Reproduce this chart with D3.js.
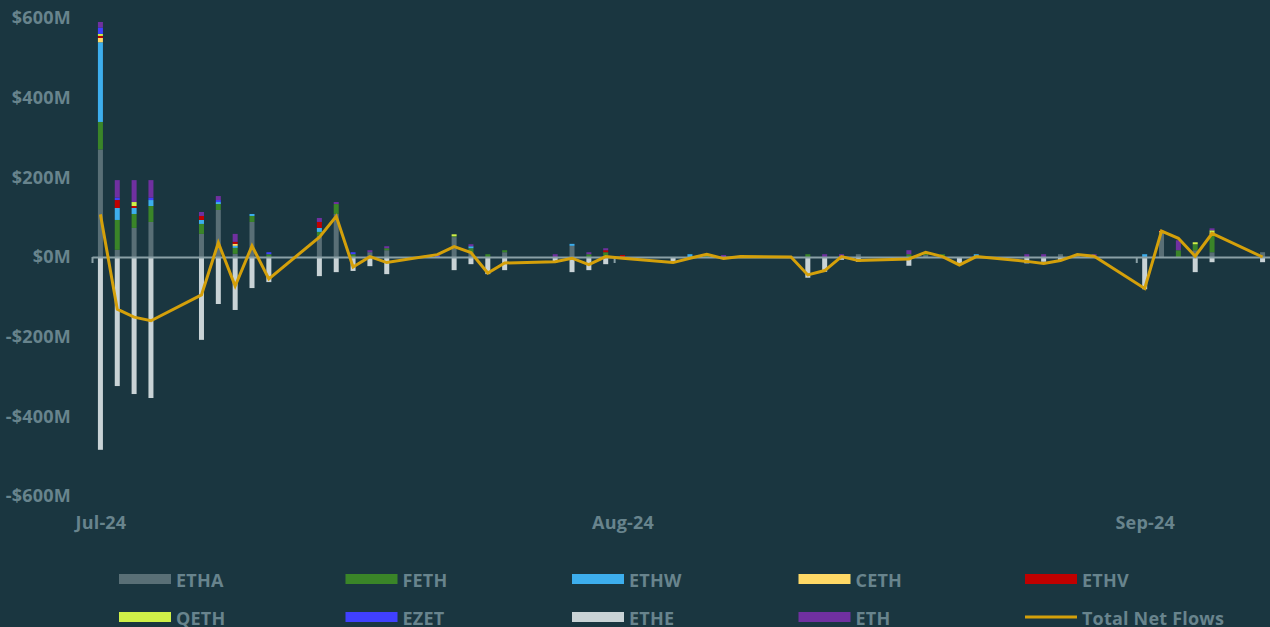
<!DOCTYPE html>
<html>
<head>
<meta charset="utf-8">
<script src="https://cdn.jsdelivr.net/npm/d3@7"></script>
<style>
  body { margin: 0; background: #1a3640; }
  svg { display: block; }
  text { font-family: "Open Sans", sans-serif; font-weight: 700; fill: #68848d; letter-spacing: 0.2px; }
</style>
</head>
<body>
<div id="chart"></div>
<script>
// ---------------------- data: daily ETH ETF flows, US$m ----------------------
var dates = ["2024-07-23","2024-07-24","2024-07-25","2024-07-26","2024-07-29","2024-07-30","2024-07-31",
  "2024-08-01","2024-08-02","2024-08-05","2024-08-06","2024-08-07","2024-08-08","2024-08-09",
  "2024-08-12","2024-08-13","2024-08-14","2024-08-15","2024-08-16","2024-08-19","2024-08-20",
  "2024-08-21","2024-08-22","2024-08-23","2024-08-26","2024-08-27","2024-08-28","2024-08-29",
  "2024-08-30","2024-09-02","2024-09-03","2024-09-04","2024-09-05","2024-09-06","2024-09-09",
  "2024-09-10","2024-09-11","2024-09-12","2024-09-13","2024-09-16","2024-09-17","2024-09-18",
  "2024-09-19","2024-09-20","2024-09-23","2024-09-24","2024-09-25","2024-09-26","2024-09-27","2024-09-30"];

var etha = [270, 18, 73, 88, 58, 118, 8, 88, 0, 53, 108, 0, 12, 17, 0, 50, 12, 0, 12, 0, 28, 0, 0, 0, 0, 0, 0, 0, 0, 0,
  0, 0, 0, 7, 0, 5, 0, 0, 0, 0, 0, 7, 5, 0, 0, 62, 0, 17, 12, 12];
var feth = [69, 75, 35, 40, 25, 15, 15, 15, 7, 10, 25, 7, 0, 5, 0, 2, 10, 7, 5, 0, 0, 7, 12, 0, 0, 0, 7, 0, 0, 0,
  7, 0, 0, 0, 7, 7, 7, 0, 0, 0, 0, 0, 0, 0, 0, 0, 17, 15, 45, 0];
var ethw = [200, 30, 15, 15, 10, 5, 5, 5, 0, 10, 0, 0, 0, 0, 0, 0, 5, 0, 0, 0, 5, 0, 0, 0, 0, 7, 0, 0, 0, 0,
  0, 0, 0, 0, 0, 0, 0, 0, 7, 0, 0, 0, 0, 0, 7, 0, 0, 0, 0, 0];
var ceth = [11, 0, 0, 0, 0, 0, 5, 0, 0, 0, 0, 0, 0, 0, 0, 0, 0, 0, 0, 0, 0, 0, 0, 0, 0, 0, 0, 0, 0, 0,
  0, 0, 0, 0, 0, 0, 0, 0, 0, 0, 0, 0, 0, 0, 0, 3, 0, 0, 5, 0];
var ethv = [5, 20, 5, 0, 10, 0, 5, 0, 0, 15, 0, 0, 0, 0, 0, 0, 0, 0, 0, 0, 0, 0, 5, 5, 0, 0, 0, 0, 0, 0,
  0, 0, 0, 0, 0, 0, 0, 0, 0, 0, 0, 0, 0, 3, 0, 2, 0, 0, 0, 0];
var qeth = [5, 0, 10, 0, 0, 0, 0, 0, 0, 0, 0, 0, 0, 0, 0, 5, 0, 0, 0, 0, 0, 0, 0, 0, 0, 0, 0, 0, 0, 0,
  0, 0, 0, 0, 0, 0, 0, 0, 0, 0, 0, 0, 0, 0, 0, 0, 0, 5, 5, 0];
var ezet = [16, 6, 0, 6, 0, 5, 0, 0, 5, 0, 0, 5, 0, 0, 3, 0, 0, 0, 0, 0, 0, 0, 0, 0, 0, 0, 0, 0, 0, 0,
  0, 0, 0, 0, 0, 0, 0, 0, 0, 0, 0, 0, 0, 0, 0, 0, 0, 0, 0, 0];
var ethe = [-484, -324, -344, -354, -208, -118, -133, -78, -63, -48, -38, -35, -23, -43, 0, -33, -18, -43, -33, -13, -38,
  -33, -18, 0, -10, 0, 0, 0, 0, 0, -52, -37, -7, -12, -22, 0, 0, -15, 0, -16, -12, -8, 0, 0, -81, 0, 0, -38, -13, -13];
var eth = [14, 44, 55, 44, 10, 10, 20, 0, 0, 10, 5, 0, 5, 5, 3, 0, 5, 0, 0, 7, 0, 5, 5, 0, 0, 0, 0, 5, 0, 0,
  0, 7, 7, 0, 10, 0, 0, 0, 0, 7, 7, 0, 0, 4, 0, 0, 25, 0, 5, 0];
var totalNetFlows = [107, -131, -151, -160, -95, 36, -73, 28, -55, 50, 102, -25, 1, -14, 6, 26, 11, -40, -15, -12, -3,
  -19, 1, -3, -14, -3, 7, -4, 1, 0, -45, -34, 1, -9, -5, 12, 1, -20, 1, -11, -16, -9, 6, 2, -79, 65, 47, 2, 59, 0];

var seriesNames = ["ETHA", "FETH", "ETHW", "CETH", "ETHV", "QETH", "EZET", "ETHE", "ETH"];
var seriesColors = ["#596f76", "#3a8528", "#3daeed", "#ffd966", "#c00000", "#d0f048", "#4040ff", "#c9d3d6", "#7030a0"];
var seriesValues = [etha, feth, ethw, ceth, ethv, qeth, ezet, ethe, eth];
var lineName = "Total Net Flows";
var lineColor = "#d4a00a";

var yTicks = [-600, -400, -200, 0, 200, 400, 600];
var xTickDates = ["2024-07-23", "2024-08-23", "2024-09-23"];

// ---------------------- setup ----------------------
var svg = d3.select("#chart")
     .append("svg")
     .attr("width", 1270)
     .attr("height", 627);

var parse = d3.utcParse("%Y-%m-%d");
var halfDay = 12 * 3600 * 1000;
var x = d3.scaleUtc()
     .domain([parse("2024-07-23"), parse("2024-10-01")])
     .range([92, 1271]);
var y = d3.scaleLinear().domain([-600, 600]).range([496, 18]);
var xMid = function(d) { return x(new Date(parse(d).getTime() + halfDay)); };

var rows = dates.map(function(d, i) {
  var r = { date: d };
  seriesNames.forEach(function(k, j) { r[k] = seriesValues[j][i]; });
  return r;
});
var stacked = d3.stack().keys(seriesNames).offset(d3.stackOffsetDiverging)(rows);

// ---------------------- y axis labels ----------------------
var yAxis = svg.append("g")
     .attr("transform", "translate(74,0)")
     .call(d3.axisLeft(y).tickValues(yTicks).tickSize(0).tickPadding(3)
       .tickFormat(function(d) { return (d < 0 ? "-" : "") + "$" + Math.abs(d) + "M"; }));
yAxis.select(".domain").remove();
yAxis.selectAll("text").style("font-size", "18px").attr("fill", null);

// ---------------------- stacked bars ----------------------
var barW = 5;
svg.append("g").selectAll("g")
     .data(stacked)
     .enter()
     .append("g")
     .attr("fill", function(d, i) { return seriesColors[i]; })
     .selectAll("rect")
     .data(function(d) { return d; })
     .enter()
     .append("rect")
     .attr("x", function(d) { return xMid(d.data.date) - barW / 2; })
     .attr("y", function(d) { return y(Math.max(d[0], d[1])); })
     .attr("width", barW)
     .attr("height", function(d) { return Math.abs(y(d[0]) - y(d[1])); });

// ---------------------- x axis on zero line ----------------------
var xAxis = svg.append("g")
     .attr("transform", "translate(0," + y(0) + ")")
     .call(d3.axisBottom(x).tickValues(xTickDates.map(parse)).tickSize(6).tickSizeOuter(0)
       .tickFormat(d3.utcFormat("%b-%y")));
xAxis.select(".domain").attr("stroke", "#8aa0a6").attr("stroke-width", 2);
xAxis.selectAll(".tick line").attr("stroke", "#8aa0a6").attr("stroke-width", 2);
xAxis.selectAll("text")
     .style("font-size", "18px")
     .attr("fill", null)
     .attr("x", x(new Date(parse("2024-07-23").getTime() + halfDay)) - x(parse("2024-07-23")))
     .attr("y", 259);

// ---------------------- total net flows line ----------------------
var line = d3.line()
     .x(function(d, i) { return xMid(dates[i]); })
     .y(function(d) { return y(d); });
svg.append("path")
     .datum(totalNetFlows)
     .attr("d", line)
     .attr("fill", "none")
     .attr("stroke", lineColor)
     .attr("stroke-width", 3);

// ---------------------- legend ----------------------
var legendItems = seriesNames.slice(0, 5).concat(["QETH", "EZET", "ETHE", "ETH", lineName]);
var legend = svg.append("g").selectAll("g")
     .data(legendItems)
     .enter()
     .append("g")
     .attr("transform", function(d, i) {
       return "translate(" + (119 + (i % 5) * 226.5) + "," + (574 + Math.floor(i / 5) * 38) + ")";
     });
legend.each(function(d) {
  var g = d3.select(this);
  if (d === lineName) {
    g.append("line").attr("x1", 0).attr("x2", 52).attr("y1", 5).attr("y2", 5)
      .attr("stroke", lineColor).attr("stroke-width", 3);
  } else {
    g.append("rect").attr("width", 52).attr("height", 10)
      .attr("fill", seriesColors[seriesNames.indexOf(d)]);
  }
  g.append("text").attr("x", 57).attr("y", 13).style("font-size", "18px").text(d);
});
</script>
</body>
</html>
